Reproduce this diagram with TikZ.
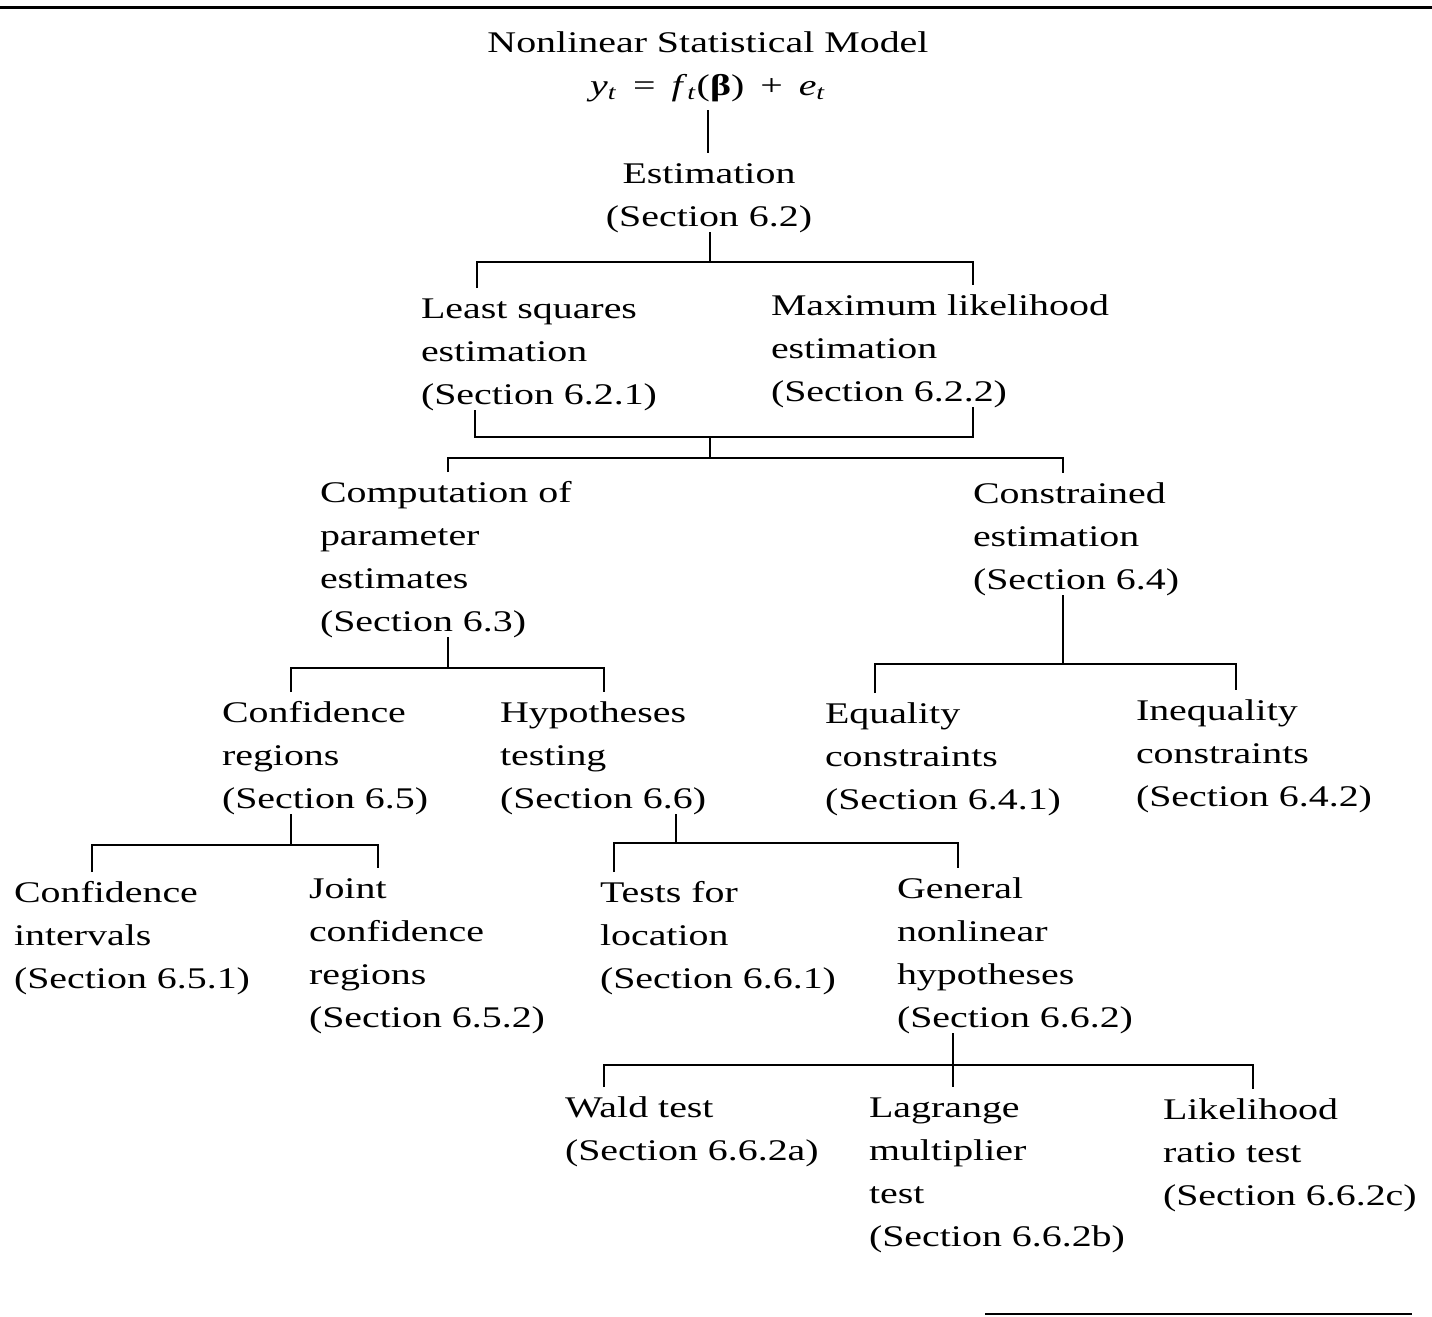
\documentclass[tikz,border=0pt]{standalone}
\usepackage{fontspec}
\setmainfont{Liberation Serif}[FakeStretch=1.33]
\begin{document}
\begin{tikzpicture}[x=0.5pt,y=-0.5pt,
  lbl/.style={inner sep=0pt,outer sep=0pt,align=left,anchor=north west,
    font=\fontsize{15pt}{21.5pt}\selectfont},
  ctr/.style={lbl,align=center,anchor=north},
  conn/.style={line width=1pt,line cap=butt}]
\useasboundingbox (0,0) rectangle (1432,1317);
% rules
\draw[line width=1.5pt] (0,7) -- (1432,7);
\draw[line width=1pt] (985,1314) -- (1412,1314);
% nodes
\node[ctr] (top) at (708,22) {\strut Nonlinear Statistical Model\\
  \textit{y}\textsubscript{\textit{t}}\ \hspace{3pt}=\ \hspace{3pt}\textit{f}\textsubscript{\textit{t}}(\textbf{β})\ \hspace{3pt}+\ \hspace{3pt}\textit{e}\textsubscript{\textit{t}}};
\node[ctr] (est) at (709,153) {\strut Estimation\\(Section 6.2)};
\node[lbl] (ls) at (421,288) {\strut Least squares\\estimation\\(Section 6.2.1)};
\node[lbl] (ml) at (771,285) {\strut Maximum likelihood\\estimation\\(Section 6.2.2)};
\node[lbl] (comp) at (320,472) {\strut Computation of\\parameter\\estimates\\(Section 6.3)};
\node[lbl] (cons) at (973,473) {\strut Constrained\\estimation\\(Section 6.4)};
\node[lbl] (cr) at (222,692) {\strut Confidence\\regions\\(Section 6.5)};
\node[lbl] (hyp) at (500,692) {\strut Hypotheses\\testing\\(Section 6.6)};
\node[lbl] (eq) at (825,693) {\strut Equality\\constraints\\(Section 6.4.1)};
\node[lbl] (ineq) at (1136,690) {\strut Inequality\\constraints\\(Section 6.4.2)};
\node[lbl] (ci) at (14,872) {\strut Confidence\\intervals\\(Section 6.5.1)};
\node[lbl] (jcr) at (309,868) {\strut Joint\\confidence\\regions\\(Section 6.5.2)};
\node[lbl] (tl) at (600,872) {\strut Tests for\\location\\(Section 6.6.1)};
\node[lbl] (gen) at (897,868) {\strut General\\nonlinear\\hypotheses\\(Section 6.6.2)};
\node[lbl] (wald) at (565,1087) {\strut Wald test\\(Section 6.6.2a)};
\node[lbl] (lag) at (869,1087) {\strut Lagrange\\multiplier\\test\\(Section 6.6.2b)};
\node[lbl] (lr) at (1163,1089) {\strut Likelihood\\ratio test\\(Section 6.6.2c)};
% junction coordinates
\coordinate (j1) at (708,110);
\coordinate (j2) at (710,262);
\coordinate (b2l) at (477,262); \coordinate (b2r) at (973,262);
\coordinate (u3l) at (475,437); \coordinate (u3r) at (973,437);
\coordinate (j3) at (710,437);
\coordinate (j3b) at (710,458);
\coordinate (b3l) at (448,458); \coordinate (b3r) at (1063,458);
\coordinate (j4) at (448,668);
\coordinate (b4l) at (291,668); \coordinate (b4r) at (604,668);
\coordinate (j5) at (1063,664);
\coordinate (b5l) at (875,664); \coordinate (b5r) at (1236,664);
\coordinate (j6) at (291,845);
\coordinate (b6l) at (92,845); \coordinate (b6r) at (378,845);
\coordinate (j7) at (676,843);
\coordinate (b7l) at (614,843); \coordinate (b7r) at (958,843);
\coordinate (j8) at (953,1065);
\coordinate (b8l) at (604,1065); \coordinate (b8r) at (1253,1065);
% connectors
\draw[conn] (j1) -- (j1 |- est.north);
\draw[conn] (j2 |- est.south) -- (j2);
\draw[conn] (b2l |- ls.north) -- (b2l) -- (b2r) -- (b2r |- ml.north);
\draw[conn] (u3l |- ls.south) -- (u3l) -- (u3r) -- (u3r |- ml.south);
\draw[conn] (j3) -- (j3b);
\draw[conn] (b3l |- comp.north) -- (b3l) -- (b3r) -- (b3r |- cons.north);
\draw[conn] (j4 |- comp.south) -- (j4);
\draw[conn] (b4l |- cr.north) -- (b4l) -- (b4r) -- (b4r |- hyp.north);
\draw[conn] (j5 |- cons.south) -- (j5);
\draw[conn] (b5l |- eq.north) -- (b5l) -- (b5r) -- (b5r |- ineq.north);
\draw[conn] (j6 |- cr.south) -- (j6);
\draw[conn] (b6l |- ci.north) -- (b6l) -- (b6r) -- (b6r |- jcr.north);
\draw[conn] (j7 |- hyp.south) -- (j7);
\draw[conn] (b7l |- tl.north) -- (b7l) -- (b7r) -- (b7r |- gen.north);
\draw[conn] (j8 |- gen.south) -- (j8 |- lag.north);
\draw[conn] (b8l |- wald.north) -- (b8l) -- (b8r) -- (b8r |- lr.north);
\end{tikzpicture}
\end{document}
